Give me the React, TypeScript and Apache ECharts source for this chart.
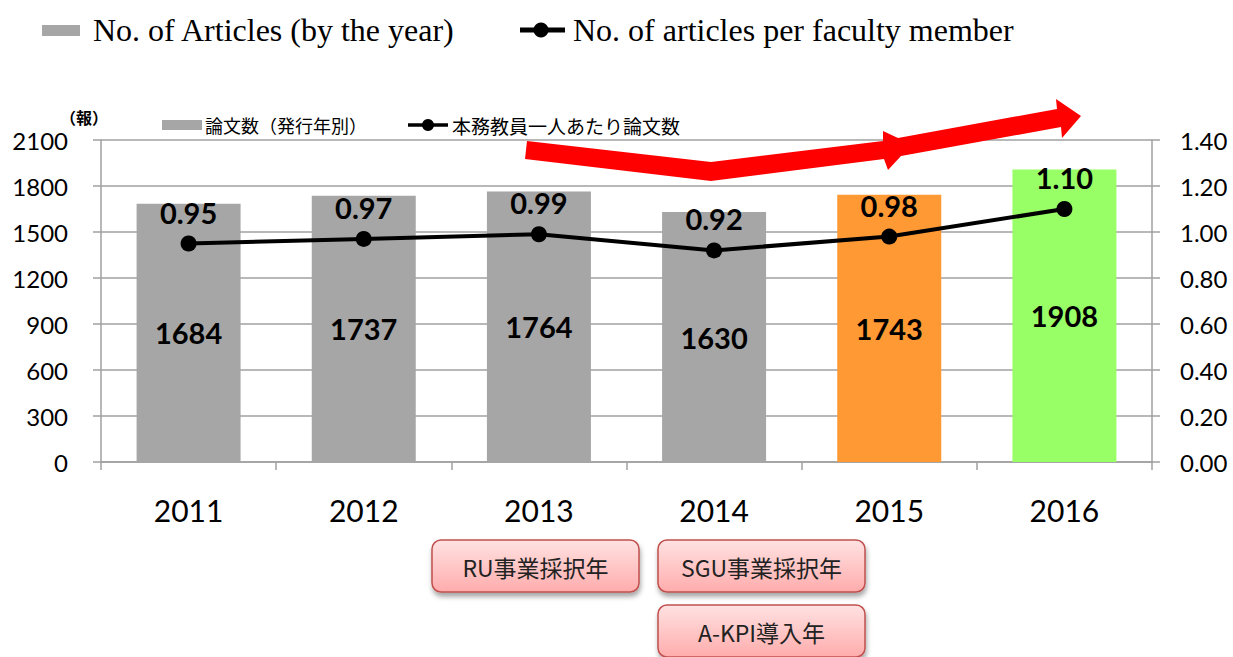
import React, { useEffect, useRef } from "react";
import * as echarts from "echarts";

const years = ["2011", "2012", "2013", "2014", "2015", "2016"];
const articles = [1684, 1737, 1764, 1630, 1743, 1908];
const perFaculty = [0.95, 0.97, 0.99, 0.92, 0.98, 1.1];
const barColors = ["#a6a6a6", "#a6a6a6", "#a6a6a6", "#a6a6a6", "#ff9933", "#99ff66"];
const leftTicks = { min: 0, max: 2100, interval: 300 };
const rightTicks = { min: 0, max: 1.4, interval: 0.2 };
const seriesNamesEn = ["No. of Articles (by the year)", "No. of articles per faculty member"];
const seriesNamesJa = ["論文数（発行年別）", "本務教員一人あたり論文数"];
const unitLabel = "（報）";
const eventBoxes = [
  { text: "RU事業採択年", x: 432, y: 540 },
  { text: "SGU事業採択年", x: 658, y: 540 },
  { text: "A-KPI導入年", x: 658, y: 605 },
];

const NUM_FONT = "Lato, 'Open Sans', sans-serif";
const CJK_FONT = "'Noto Sans CJK JP', 'Noto Sans', sans-serif";
const SERIF_FONT = "'Liberation Serif', 'Times New Roman', serif";
const GRID = "#a0a0a0";

export default function App() {
  const ref = useRef<HTMLDivElement>(null);
  useEffect(() => {
    if (!ref.current) return;
    const chart = echarts.init(ref.current, undefined, { renderer: "svg" });

    const boxGraphics = eventBoxes.map((b) => ({
      type: "group",
      x: b.x,
      y: b.y,
      children: [
        {
          type: "rect",
          shape: { x: 0, y: 0, width: 207, height: 52, r: 9 },
          style: {
            fill: new echarts.graphic.LinearGradient(0, 0, 0, 1, [
              { offset: 0, color: "#ffe2e2" },
              { offset: 1, color: "#ffacac" },
            ]),
            stroke: "#c0504d",
            lineWidth: 1.5,
            shadowBlur: 5,
            shadowOffsetX: 1,
            shadowOffsetY: 4,
            shadowColor: "rgba(0,0,0,0.35)",
          },
        },
        {
          type: "text",
          x: 103.5,
          y: 27,
          style: {
            text: b.text,
            fontSize: 23,
            fontFamily: CJK_FONT,
            fill: "#222",
            align: "center",
            verticalAlign: "middle",
          },
        },
      ],
    }));

    const arrowPoints = [
      [527, 141],
      [711, 162],
      [883, 141],
      [883, 131],
      [898, 138],
      [1057, 109],
      [1056, 99],
      [1081, 116],
      [1062, 138],
      [1061, 127],
      [901, 156],
      [888, 170],
      [884, 159],
      [711, 181],
      [525, 159],
    ];

    chart.setOption({
      animation: false,
      backgroundColor: "#ffffff",
      grid: { left: 101, right: 81, top: 140, bottom: 195, containLabel: false },
      xAxis: {
        type: "category",
        data: years,
        axisLine: { lineStyle: { color: GRID, width: 1.5 } },
        axisTick: { show: true, length: 8, lineStyle: { color: GRID, width: 1.5 } },
        axisLabel: { fontFamily: NUM_FONT, fontSize: 30, color: "#000", margin: 33 },
      },
      yAxis: [
        {
          type: "value",
          ...leftTicks,
          axisLine: { show: true, lineStyle: { color: GRID, width: 1.5 } },
          axisTick: { show: true, length: 8, lineStyle: { color: GRID, width: 1.5 } },
          splitLine: { lineStyle: { color: GRID, width: 1.5 } },
          axisLabel: {
            fontFamily: NUM_FONT,
            fontSize: 24,
            color: "#000",
            margin: 33,
            formatter: (v: number) => String(v),
          },
        },
        {
          type: "value",
          ...rightTicks,
          position: "right",
          axisLine: { show: true, lineStyle: { color: GRID, width: 1.5 } },
          axisTick: { show: true, length: 8, lineStyle: { color: GRID, width: 1.5 } },
          splitLine: { show: false },
          axisLabel: {
            fontFamily: NUM_FONT,
            fontSize: 24,
            color: "#000",
            margin: 28,
            formatter: (v: number) => v.toFixed(2),
          },
        },
      ],
      series: [
        {
          name: seriesNamesEn[0],
          type: "bar",
          barWidth: 104,
          itemStyle: { color: barColors[0] },
          data: articles.map((v, i) => ({ value: v, itemStyle: { color: barColors[i] } })),
          label: {
            show: true,
            position: "inside",
            fontFamily: NUM_FONT,
            fontWeight: "bold",
            fontSize: 29,
            color: "#000",
          },
          z: 2,
        },
        {
          name: seriesNamesEn[1],
          type: "line",
          yAxisIndex: 1,
          data: perFaculty,
          symbol: "circle",
          symbolSize: 16,
          lineStyle: { color: "#000", width: 4 },
          itemStyle: { color: "#000" },
          label: {
            show: true,
            position: "top",
            distance: 9,
            fontFamily: NUM_FONT,
            fontWeight: "bold",
            fontSize: 29,
            color: "#000",
            formatter: (p: any) => Number(p.value).toFixed(2),
          },
          z: 5,
        },
      ],
      graphic: [
        {
          type: "polygon",
          shape: { points: arrowPoints },
          style: { fill: "#ff0000" },
          z: 10,
        },
        // top English legend
        {
          type: "rect",
          shape: { x: 42, y: 25, width: 38, height: 11 },
          style: { fill: barColors[0] },
        },
        {
          type: "text",
          x: 93,
          y: 30,
          style: {
            text: seriesNamesEn[0],
            fontSize: 32,
            fontFamily: SERIF_FONT,
            fill: "#000",
            verticalAlign: "middle",
          },
        },
        {
          type: "line",
          shape: { x1: 520, y1: 30, x2: 565, y2: 30 },
          style: { stroke: "#000", lineWidth: 5 },
        },
        {
          type: "circle",
          shape: { cx: 541, cy: 30, r: 7.5 },
          style: { fill: "#000" },
        },
        {
          type: "text",
          x: 573,
          y: 30,
          style: {
            text: seriesNamesEn[1],
            fontSize: 32,
            fontFamily: SERIF_FONT,
            fill: "#000",
            verticalAlign: "middle",
          },
        },
        // unit label
        {
          type: "text",
          x: 60,
          y: 117,
          style: {
            text: unitLabel,
            fontSize: 16,
            fontWeight: "bold",
            fontFamily: CJK_FONT,
            fill: "#000",
            verticalAlign: "middle",
          },
        },
        // inner Japanese legend
        {
          type: "rect",
          shape: { x: 162, y: 120, width: 40, height: 10 },
          style: { fill: barColors[0] },
        },
        {
          type: "text",
          x: 205,
          y: 125,
          style: {
            text: seriesNamesJa[0],
            fontSize: 18,
            fontFamily: CJK_FONT,
            fill: "#000",
            verticalAlign: "middle",
          },
        },
        {
          type: "line",
          shape: { x1: 408, y1: 125, x2: 448, y2: 125 },
          style: { stroke: "#000", lineWidth: 3.5 },
        },
        {
          type: "circle",
          shape: { cx: 428, cy: 125, r: 6 },
          style: { fill: "#000" },
        },
        {
          type: "text",
          x: 452,
          y: 125,
          style: {
            text: seriesNamesJa[1],
            fontSize: 19,
            fontFamily: CJK_FONT,
            fill: "#000",
            verticalAlign: "middle",
          },
        },
        ...boxGraphics,
      ],
    });
    return () => chart.dispose();
  }, []);
  return <div ref={ref} style={{ width: 1233, height: 657, position: "absolute", left: 0, top: 0 }} />;
}
